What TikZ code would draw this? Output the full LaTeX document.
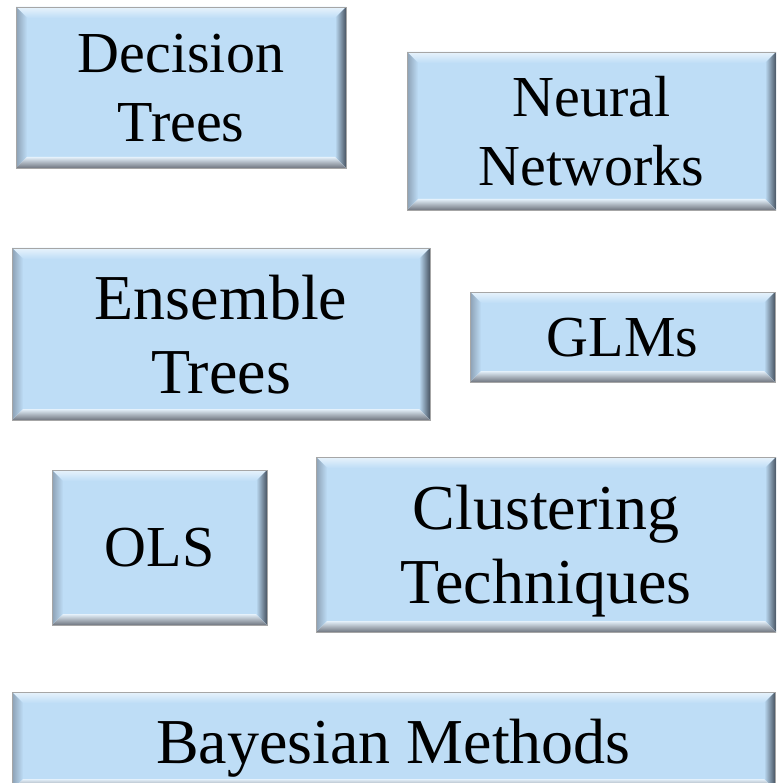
\documentclass[tikz,border=0pt]{standalone}
\usepackage{fontspec}
\setmainfont{Liberation Serif}

\definecolor{boxblue}{RGB}{190,221,246}
\definecolor{bevtop}{RGB}{232,243,252}
\definecolor{bevleft}{RGB}{140,160,180}
\definecolor{bevright}{RGB}{72,84,98}
\definecolor{bevbottom}{RGB}{112,118,128}

% the four bevelled sides of a box
\newcommand{\bevelsides}{%
  \coordinate (bnw) at (path picture bounding box.north west);
  \coordinate (bne) at (path picture bounding box.north east);
  \coordinate (bsw) at (path picture bounding box.south west);
  \coordinate (bse) at (path picture bounding box.south east);
  \fill[top color=bevtop,bottom color=boxblue] (bnw)--(bne)--([shift={(-11pt,-11pt)}]bne)--([shift={(11pt,-11pt)}]bnw)--cycle;
  \fill[left color=bevleft,right color=boxblue] (bnw)--([shift={(11pt,-11pt)}]bnw)--([shift={(11pt,11pt)}]bsw)--(bsw)--cycle;
  \fill[left color=boxblue,right color=bevright] (bne)--([shift={(-11pt,-11pt)}]bne)--([shift={(-11pt,11pt)}]bse)--(bse)--cycle;
  \fill[top color=boxblue!40!white,bottom color=bevbottom] (bsw)--([shift={(11pt,11pt)}]bsw)--([shift={(-11pt,11pt)}]bse)--(bse)--cycle;
}

\begin{document}
\begin{tikzpicture}[x=1pt,y=-1pt]

\tikzset{
  method/.style={draw=black!35,line width=0.8pt,fill=boxblue,inner sep=0pt,
    align=center,text depth=0pt,path picture={\bevelsides}},
  smallfont/.style={font=\fontsize{58}{69}\selectfont},
  bigfont/.style={font=\fontsize{64}{74}\selectfont}
}

\useasboundingbox (0,0) rectangle (776,783);
\clip (0,0) rectangle (776,783);

\node[method,smallfont,minimum width=330pt,minimum height=161pt] (dtree) at (181,87.5) {Decision\\Trees};
\node[method,smallfont,minimum width=369pt,minimum height=158pt] (neural) at (591.5,131) {Neural\\Networks};

\node[method,bigfont,minimum width=418pt,minimum height=172pt] (ensemble) at (221,334) {Ensemble\\Trees};
\node[method,smallfont,minimum width=305pt,minimum height=90pt] (glm) at (622.5,337) {GLMs};

\node[method,smallfont,minimum width=215pt,minimum height=155pt] (ols) at (159.5,547.5) {OLS};
\node[method,bigfont,minimum width=460pt,minimum height=175pt] (cluster) at (546,544.5) {Clustering\\Techniques};

\node[method,bigfont,minimum width=763pt,minimum height=98pt] (bayes) at (393.5,741) {Bayesian Methods};

\end{tikzpicture}
\end{document}
